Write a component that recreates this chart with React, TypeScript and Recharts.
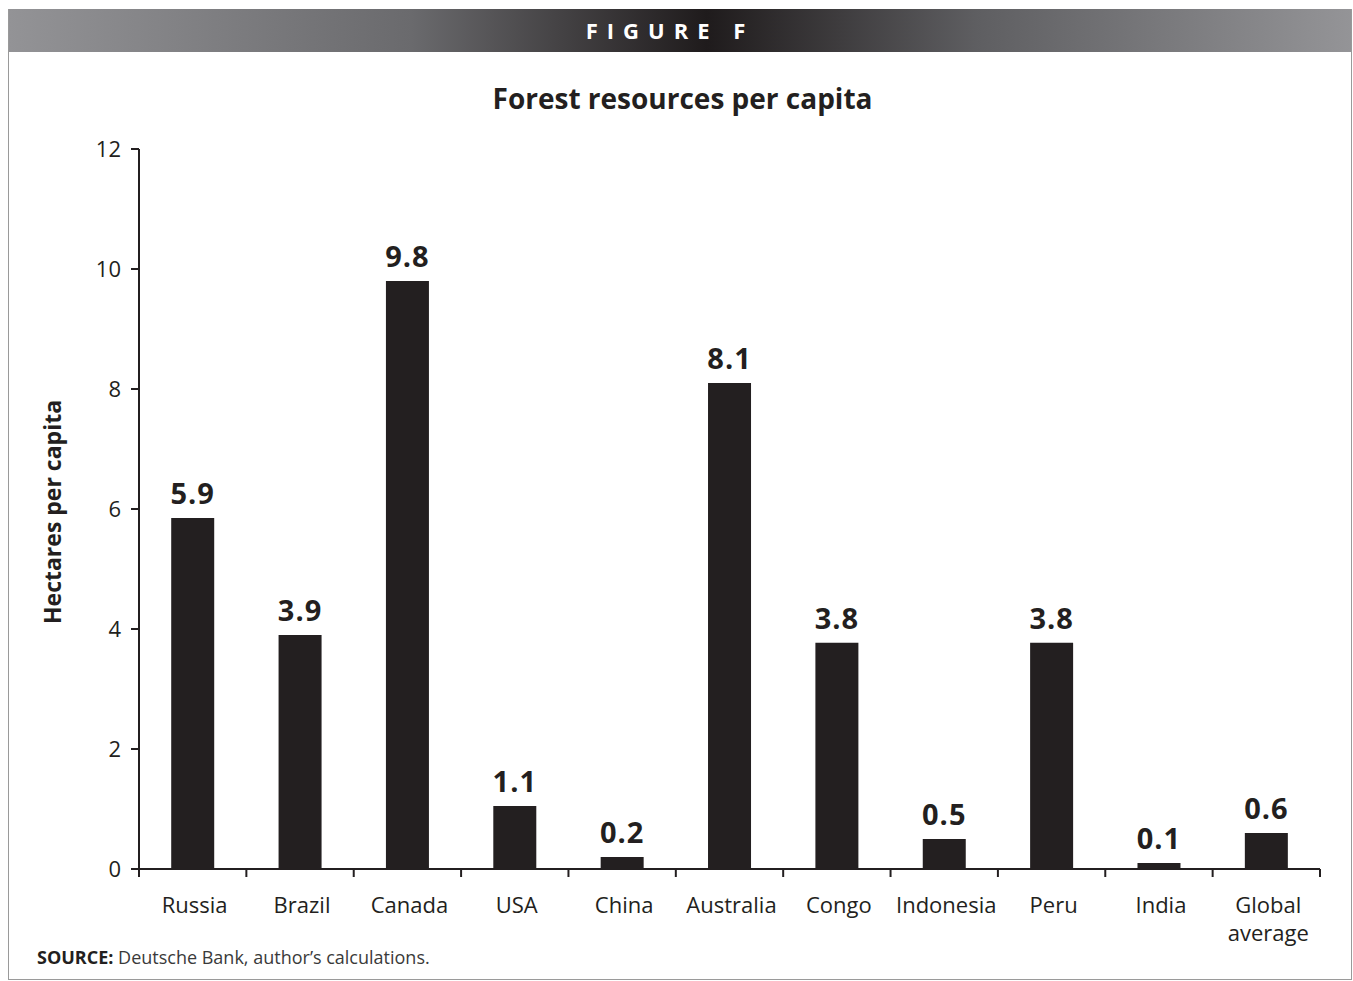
import React from 'react';
import { BarChart, Bar, XAxis, YAxis, LabelList } from 'recharts';

const countries = ['Russia', 'Brazil', 'Canada', 'USA', 'China', 'Australia', 'Congo', 'Indonesia', 'Peru', 'India', 'Global average'];
const hectares = [5.85, 3.9, 9.8, 1.05, 0.2, 8.1, 3.77, 0.5, 3.77, 0.1, 0.6];
const valueLabels = ['5.9', '3.9', '9.8', '1.1', '0.2', '8.1', '3.8', '0.5', '3.8', '0.1', '0.6'];
const yTicks = [0, 2, 4, 6, 8, 10, 12];

const data = countries.map((name, i) => ({ name, value: hectares[i], label: valueLabels[i] }));

const INK = '#231f20';
const FONT = '"Open Sans", "Noto Sans", sans-serif';

const CategoryTick = (props: any) => {
  const { x, y, payload, index, visibleTicksCount } = props;
  const half = payload.offset ?? 1181 / countries.length / 2;
  const lines = String(payload.value).split(' ');
  const last = index === (visibleTicksCount ?? countries.length) - 1;
  return (
    <g>
      <line x1={x - half} x2={x - half} y1={y} y2={y + 8} stroke={INK} strokeWidth={2} />
      {last && <line x1={x + half} x2={x + half} y1={y} y2={y + 8} stroke={INK} strokeWidth={2} />}
      <text x={x + 2} y={y + 44} textAnchor="middle" fill={INK} fontSize={22} fontFamily={FONT}>
        {lines.map((l, i) => (
          <tspan key={i} x={x + 2} dy={i === 0 ? 0 : 28}>{l}</tspan>
        ))}
      </text>
    </g>
  );
};

const App: React.FC = () => {
  return (
    <div style={{ position: 'absolute', left: 0, top: 0, width: 1353, height: 981, background: '#fff', fontFamily: FONT }}>
      {/* frame */}
      <div style={{ position: 'absolute', left: 8, top: 9, width: 1342, height: 970, borderLeft: '1.5px solid #9a9a9a', borderRight: '1.5px solid #9a9a9a', borderBottom: '1.5px solid #9a9a9a' }} />
      {/* header band */}
      <div style={{
        position: 'absolute', left: 9, top: 9, width: 1342, height: 43, boxSizing: 'border-box', paddingRight: 20,
        background: 'linear-gradient(to right, #939396 0%, #6a6a6d 30%, #1f1b1c 52%, #5e5e61 72%, #949497 100%)',
        color: '#fff', fontWeight: 700, fontSize: 22, letterSpacing: 9, textAlign: 'center', lineHeight: '43px'
      }}>
        FIGURE F
      </div>
      <div style={{ position: 'absolute', left: 0, width: 1365, top: 79, textAlign: 'center', fontSize: 28, fontWeight: 700, color: INK }}>
        Forest resources per capita
      </div>
      <div style={{
        position: 'absolute', left: 52, top: 512, transform: 'translate(-50%, -50%) rotate(-90deg)',
        whiteSpace: 'nowrap', fontSize: 23, fontWeight: 700, color: INK
      }}>
        Hectares per capita
      </div>
      <div style={{ position: 'absolute', left: 37, top: 945, fontSize: 18, color: '#3a3a3a' }}>
        <b style={{ color: INK }}>SOURCE:</b> Deutsche Bank, author’s calculations.
      </div>
      <div style={{ position: 'absolute', left: 0, top: 0 }}>
        <BarChart width={1353} height={981} data={data} barCategoryGap="30%"
          margin={{ top: 149, right: 33, bottom: 32, left: 79 }}>
          <XAxis dataKey="name" height={80} tickSize={0} tickMargin={0} tickLine={false} interval={0}
            axisLine={{ stroke: INK, strokeWidth: 2 }} tick={<CategoryTick />} />
          <XAxis xAxisId="top" dataKey="name" orientation="top" height={0} tick={false} tickLine={false}
            axisLine={{ stroke: INK, strokeWidth: 2 }} />
          <YAxis domain={[0, 12]} ticks={yTicks} width={60} tickSize={8} tickMargin={10}
            axisLine={{ stroke: INK, strokeWidth: 2 }} tickLine={{ stroke: INK, strokeWidth: 2 }}
            tick={{ fill: INK, fontSize: 22, fontFamily: FONT }} />
          <YAxis yAxisId="right" orientation="right" domain={[0, 12]} width={0} tick={false} tickLine={false}
            axisLine={{ stroke: INK, strokeWidth: 2 }} />
          <Bar dataKey="value" fill={INK} isAnimationActive={false}>
            <LabelList dataKey="label" position="top" offset={14}
              style={{ fill: INK, fontSize: 29, fontWeight: 700, fontFamily: FONT, letterSpacing: 1 }} />
          </Bar>
        </BarChart>
      </div>
    </div>
  );
};

export default App;
